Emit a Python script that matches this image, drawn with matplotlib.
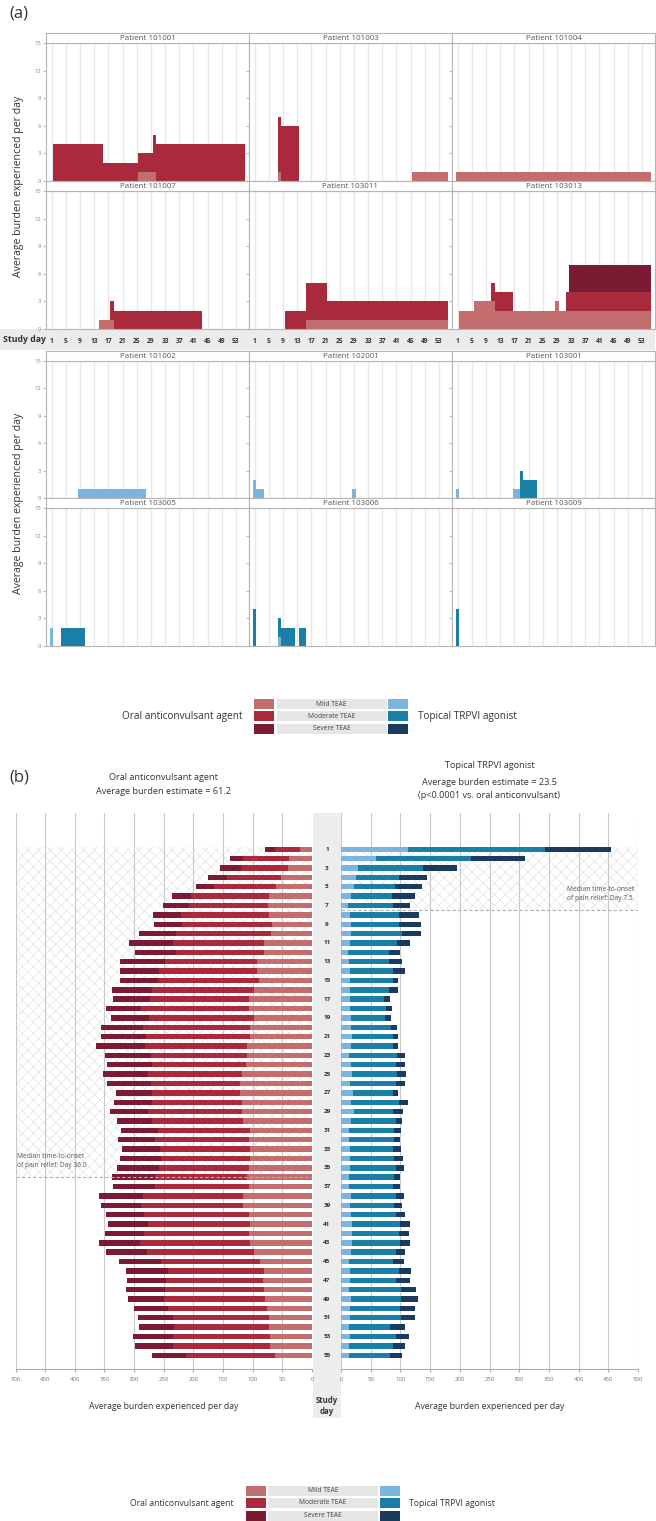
import numpy as np
import matplotlib
matplotlib.use("Agg")
import matplotlib.pyplot as plt
from matplotlib.patches import Rectangle

plt.rcParams['font.family'] = ['Open Sans', 'DejaVu Sans']
plt.rcParams['hatch.linewidth'] = 0.35

# ---------------- colours ----------------
RED_MILD, RED_MOD, RED_SEV = '#C26E6E', '#A82A3C', '#7A1B33'
BLUE_MILD, BLUE_MOD, BLUE_SEV = '#7BB5DD', '#1A7FA6', '#1B3B5E'

# ---------------- data: panel (a) ----------------
# segments: (first study day, last study day, burden value)
oral_ids = ["101001", "101003", "101004", "101007", "103011", "103013"]
oral_mild = [[(26, 30, 1)], [(8, 8, 1), (46, 55, 1)], [(1, 55, 1)], [(15, 18, 1)],
             [(16, 55, 1)], [(2, 5, 2), (6, 11, 3), (12, 28, 2), (29, 29, 3), (30, 55, 2)]]
oral_mod = [[(2, 15, 4), (16, 29, 2), (30, 55, 4)], [(8, 13, 6)], [], [(18, 43, 2)],
            [(10, 15, 2), (16, 21, 4), (22, 55, 2)], [(11, 16, 2), (32, 55, 2)]]
oral_sev = [[], [], [], [], [], [(33, 55, 3)]]

topical_ids = ["101002", "102001", "103001", "103005", "103006", "103009"]
topical_mild = [[(9, 27, 1)], [(1, 1, 2), (2, 3, 1), (29, 29, 1)], [(1, 1, 1), (17, 18, 1)],
                [(1, 1, 2)], [(8, 8, 1)], []]
topical_mod = [[], [], [(19, 19, 3), (20, 23, 2)], [(4, 10, 2)],
               [(1, 1, 4), (8, 8, 2), (9, 12, 2), (14, 15, 2)], [(1, 1, 4)]]
topical_sev = [[], [], [], [], [], []]

# ---------------- data: panel (b) ----------------
study_days = np.arange(1, 56)
oral_b_mild = [20, 39, 41, 52, 61, 73, 74, 73, 68, 69, 81, 81, 93, 93, 89, 98, 107, 107, 98, 105,
               105, 110, 109, 111, 118, 122, 122, 118, 118, 116, 105, 106, 104, 104, 107, 110, 107, 116, 116, 107,
               104, 106, 104, 97, 88, 81, 83, 81, 80, 76, 73, 73, 71, 71, 63]
oral_b_mod = [42, 78, 79, 92, 104, 131, 133, 148, 152, 161, 154, 149, 155, 165, 171, 172, 166, 181, 177, 180,
              175, 171, 163, 158, 158, 150, 147, 152, 159, 153, 155, 159, 152, 151, 151, 155, 157, 169, 173, 176,
              173, 177, 186, 182, 167, 162, 163, 167, 170, 167, 162, 159, 164, 164, 149]
oral_b_sev = [18, 21, 35, 32, 31, 32, 45, 47, 47, 62, 74, 68, 75, 65, 63, 68, 63, 60, 64, 71,
              75, 83, 77, 77, 77, 74, 62, 64, 63, 60, 62, 62, 64, 69, 71, 73, 72, 74, 67, 65,
              67, 66, 69, 69, 70, 70, 66, 65, 60, 58, 58, 60, 67, 63, 58]
top_b_mild = [113, 59, 29, 25, 22, 17, 12, 15, 16, 16, 15, 12, 13, 15, 15, 15, 15, 15, 17, 17,
              19, 17, 14, 16, 18, 15, 20, 16, 22, 16, 14, 13, 15, 15, 15, 14, 14, 16, 15, 16,
              18, 18, 18, 16, 14, 15, 15, 13, 16, 15, 15, 13, 15, 13, 13]
top_b_mod = [230, 160, 109, 73, 69, 69, 76, 83, 82, 86, 80, 69, 68, 72, 73, 66, 57, 61, 57, 67,
             69, 71, 81, 76, 77, 78, 68, 82, 66, 76, 76, 77, 73, 75, 77, 76, 74, 76, 75, 76,
             82, 80, 82, 76, 74, 83, 78, 88, 85, 84, 86, 70, 77, 75, 70]
top_b_sev = [111, 91, 58, 47, 45, 39, 28, 33, 36, 32, 22, 18, 22, 21, 8, 15, 10, 10, 11, 10,
             8, 8, 13, 16, 14, 14, 8, 14, 16, 11, 11, 10, 13, 14, 14, 10, 12, 14, 13, 15,
             16, 16, 16, 16, 18, 20, 23, 26, 28, 26, 24, 25, 23, 19, 19]
x_ticks_b = list(range(0, 501, 50))
median_oral, median_topical = 36.0, 7.5

# ---------------- figure ----------------
W, H = 656, 1521
fig = plt.figure(figsize=(W / 100, H / 100), dpi=100)


def add_ax(x0, y0, x1, y1, **kw):
    return fig.add_axes([x0 / W, 1 - y1 / H, (x1 - x0) / W, (y1 - y0) / H], **kw)


# background overlay (behind everything)
bg = add_ax(0, 0, W, H)
bg.set_zorder(-5)
bg.set_xlim(0, W)
bg.set_ylim(H, 0)
bg.axis('off')
bg.add_patch(Rectangle((0, 329), 655, 21, color='#EBEBEB', lw=0))
bg.add_patch(Rectangle((313, 813), 28, 605, color='#EDEDED', lw=0))

days = np.arange(1, 56)
edges = np.arange(0.5, 56.0, 1.0)


def daily(segs):
    v = np.zeros(len(days))
    for a, b, val in segs:
        v[(days >= a) & (days <= b)] += val
    return v


cols = [(46, 249), (249, 452), (452, 655)]
groups = [
    (oral_ids, oral_mild, oral_mod, oral_sev, [RED_MILD, RED_MOD, RED_SEV],
     [(33, 43, 181), (181, 191, 329)], True),
    (topical_ids, topical_mild, topical_mod, topical_sev, [BLUE_MILD, BLUE_MOD, BLUE_SEV],
     [(351, 361, 498), (498, 508, 646)], False),
]
SP = '#B5B5B5'
for ids, mi, mo, se, colors, rows, show_x in groups:
    for r, (hy0, py0, py1) in enumerate(rows):
        for c, (x0, x1) in enumerate(cols):
            k = r * 3 + c
            ax = add_ax(x0, py0, x1, py1)
            ax.set_xlim(-0.6, 56.7)
            ax.set_ylim(0, 15)
            ax.set_xticks(range(1, 54, 4))
            ax.set_yticks([0, 3, 6, 9, 12, 15])
            ax.grid(axis='x', color='#E8E8E8', lw=1.0)
            ax.set_axisbelow(True)
            m = daily(mi[k]); d = daily(mo[k]); s = daily(se[k])
            ax.stairs(m, edges, baseline=0, fill=True, color=colors[0], lw=0)
            ax.stairs(m + d, edges, baseline=m, fill=True, color=colors[1], lw=0)
            ax.stairs(m + d + s, edges, baseline=m + d, fill=True, color=colors[2], lw=0)
            for sp in ax.spines.values():
                sp.set_color(SP); sp.set_linewidth(0.8)
            ax.tick_params(axis='y', length=2, color='#BBBBBB', labelsize=4.2,
                           labelcolor='#888888', pad=1.5, labelleft=(c == 0))
            if show_x and r == 1:
                ax.tick_params(axis='x', length=0, pad=6.5, labelsize=4.8, labelcolor='#333333')
                for t in ax.get_xticklabels():
                    t.set_fontweight('bold')
            else:
                ax.tick_params(axis='x', length=0, labelbottom=False)
            hx = add_ax(x0, hy0, x1, py0)
            hx.set_xticks([]); hx.set_yticks([])
            for sp in hx.spines.values():
                sp.set_color(SP); sp.set_linewidth(0.8)
            hx.text(0.5, 0.45, "Patient " + ids[k], ha='center', va='center',
                    fontsize=5.8, color='#555555', transform=hx.transAxes)

# ---------------- panel (b) ----------------
yl = (56.5, -2.87)
axL = add_ax(15.5, 813, 312, 1369.3)
axR = add_ax(341, 813, 638, 1369.3)
axC = add_ax(313, 813, 341, 1369.3)
for ax in (axL, axR):
    ax.set_ylim(*yl)
    ax.set_xticks(x_ticks_b)
    ax.grid(axis='x', color='#C9C9C9', lw=0.8)
    ax.set_axisbelow(True)
    for n in ('top', 'left', 'right'):
        ax.spines[n].set_visible(False)
    ax.spines['bottom'].set_color('#AAAAAA')
    ax.spines['bottom'].set_linewidth(0.8)
    ax.set_yticks([])
    ax.tick_params(axis='x', length=2.5, color='#AAAAAA', labelsize=4.3,
                   labelcolor='#777777', pad=3)
axL.set_xlim(500, 0)
axR.set_xlim(0, 500)

bh = 0.58
ob_m = np.array(oral_b_mild); ob_d = np.array(oral_b_mod); ob_s = np.array(oral_b_sev)
tb_m = np.array(top_b_mild); tb_d = np.array(top_b_mod); tb_s = np.array(top_b_sev)
axL.barh(study_days, ob_m, height=bh, color=RED_MILD, zorder=2)
axL.barh(study_days, ob_d, left=ob_m, height=bh, color=RED_MOD, zorder=2)
axL.barh(study_days, ob_s, left=ob_m + ob_d, height=bh, color=RED_SEV, zorder=2)
axR.barh(study_days, tb_m, height=bh, color=BLUE_MILD, zorder=2)
axR.barh(study_days, tb_d, left=tb_m, height=bh, color=BLUE_MOD, zorder=2)
axR.barh(study_days, tb_s, left=tb_m + tb_d, height=bh, color=BLUE_SEV, zorder=2)

top_hatch = 1 - 0.28
axL.add_patch(Rectangle((0, top_hatch), 500, median_oral - top_hatch, facecolor='none',
                        edgecolor='#D9D9D9', hatch='xxx', lw=0, zorder=0.3))
axR.add_patch(Rectangle((0, top_hatch), 500, median_topical - top_hatch, facecolor='none',
                        edgecolor='#D9D9D9', hatch='xxx', lw=0, zorder=0.3))
axL.axhline(median_oral, color='#B0B0B0', lw=0.8, ls=(0, (3, 2)), zorder=3)
axR.axhline(median_topical, color='#B0B0B0', lw=0.8, ls=(0, (3, 2)), zorder=3)
axL.text(497, median_oral - 0.9, "Median time-to-onset\nof pain relief: Day 36.0",
         fontsize=4.8, color='#555555', ha='left', va='bottom', linespacing=1.3)
axR.text(380, median_topical - 0.9, "Median time-to-onset\nof pain relief: Day 7.5",
         fontsize=4.8, color='#555555', ha='left', va='bottom', linespacing=1.3)

axC.set_ylim(*yl)
axC.set_xlim(0, 1)
axC.axis('off')
for d in study_days[::2]:
    axC.text(0.5, d, str(d), ha='center', va='center', fontsize=4.6,
             fontweight='bold', color='#333333')

# ---------------- overlay texts / legends ----------------
ov = add_ax(0, 0, W, H)
ov.set_zorder(10)
ov.set_xlim(0, W)
ov.set_ylim(H, 0)
ov.axis('off')
ov.text(9, 14, "(a)", fontsize=12, color='#333333', ha='left', va='center')
ov.text(9, 778, "(b)", fontsize=12, color='#333333', ha='left', va='center')
ov.text(3, 340, "Study day", fontsize=6.3, fontweight='bold', color='#333333', ha='left', va='center')
for yc in (186, 503):
    ov.text(19, yc, "Average burden experienced per day", rotation=90, fontsize=7.6,
            color='#333333', ha='center', va='center')


def legend(xl, xg0, xg1, xr, rows, text_y, tl, tr, fs):
    sw = 20
    labels = ["Mild TEAE", "Moderate TEAE", "Severe TEAE"]
    reds = [RED_MILD, RED_MOD, RED_SEV]
    blues = [BLUE_MILD, BLUE_MOD, BLUE_SEV]
    for i, (y0, y1) in enumerate(rows):
        ov.add_patch(Rectangle((xl, y0), sw, y1 - y0, color=reds[i], lw=0))
        ov.add_patch(Rectangle((xg0, y0), xg1 - xg0, y1 - y0, color='#E6E6E6', lw=0))
        ov.add_patch(Rectangle((xr, y0), sw, y1 - y0, color=blues[i], lw=0))
        ov.text((xg0 + xg1) / 2, (y0 + y1) / 2, labels[i], fontsize=4.8, color='#444444',
                ha='center', va='center')
    ov.text(tl, text_y, "Oral anticonvulsant agent", fontsize=fs, color='#333333',
            ha='right', va='center')
    ov.text(tr, text_y, "Topical TRPVI agonist", fontsize=fs, color='#333333',
            ha='left', va='center')


legend(254, 277, 386.5, 388, [(699, 709), (711, 721), (723.5, 733.5)], 716, 243, 418, 7.2)
legend(245.5, 268, 378, 380, [(1485.5, 1495.5), (1498, 1508), (1510.5, 1520.5)], 1503, 233, 409, 6.2)

ov.text(163, 778, "Oral anticonvulsant agent", fontsize=6.6, color='#333333', ha='center', va='center')
ov.text(163, 791.5, "Average burden estimate = 61.2", fontsize=6.6, color='#333333', ha='center', va='center')
ov.text(489.5, 765, "Topical TRPVI agonist", fontsize=6.6, color='#333333', ha='center', va='center')
ov.text(489.5, 782.5, "Average burden estimate = 23.5", fontsize=6.6, color='#333333', ha='center', va='center')
ov.text(489.5, 795, "(p<0.0001 vs. oral anticonvulsant)", fontsize=6.6, color='#333333', ha='center', va='center')
ov.text(164, 1406.5, "Average burden experienced per day", fontsize=6.2, color='#333333', ha='center', va='center')
ov.text(489.5, 1406.5, "Average burden experienced per day", fontsize=6.2, color='#333333', ha='center', va='center')
ov.text(327, 1406, "Study\nday", fontsize=5.6, fontweight='bold', color='#333333', ha='center',
        va='center', linespacing=1.2)

fig.savefig("out.png", dpi=100)
